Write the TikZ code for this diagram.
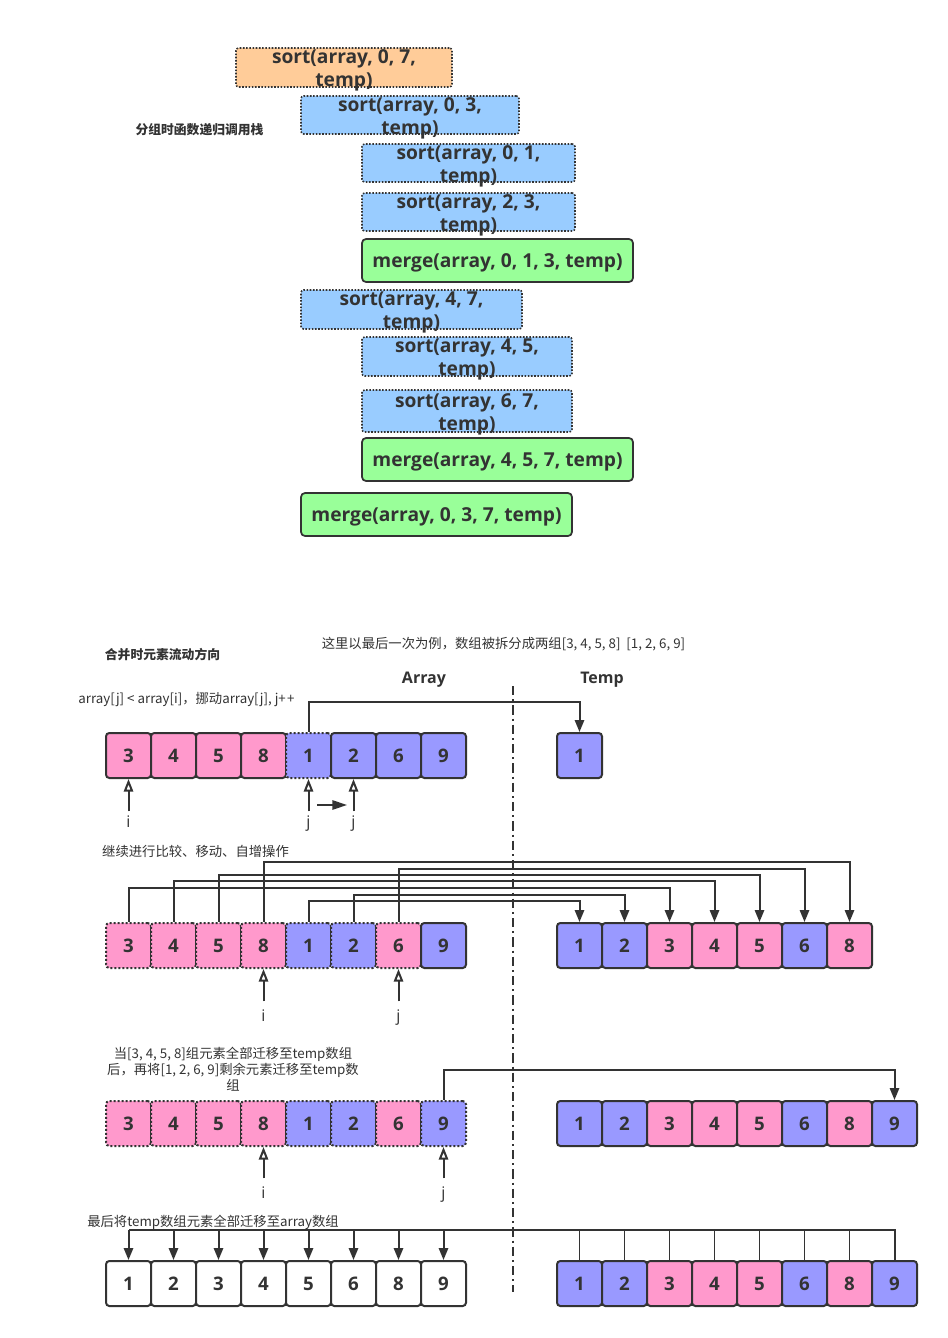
\documentclass[tikz,border=0pt]{standalone}
\usepackage{fontspec}
\setmainfont{Open Sans}
\newfontfamily\cjk{Noto Sans CJK SC}
\usetikzlibrary{arrows.meta,calc}
\definecolor{pinkc}{HTML}{FF99CC}
\definecolor{bluec}{HTML}{9999FF}
\definecolor{lbluec}{HTML}{99CCFF}
\definecolor{orangec}{HTML}{FFCC99}
\definecolor{greenc}{HTML}{99FF99}
\definecolor{ink}{HTML}{333333}
\tikzset{
 cellb/.style={draw=ink, line width=1.5pt, rounded corners=2.5pt, minimum width=33.75pt, minimum height=33.75pt, inner sep=0pt, text=ink, font=\bfseries\fontsize{14}{16}\selectfont},
 pc/.style={cellb, fill=pinkc},
 bc/.style={cellb, fill=bluec},
 wc/.style={cellb, fill=white},
 dotb/.style={dash pattern=on 1.5pt off 1.5pt},
 pcd/.style={pc, dotb},
 bcd/.style={bc, dotb},
 stackbox/.style={draw=ink, line width=1.2pt, dash pattern=on 1.2pt off 1.2pt, rounded corners=2pt, inner sep=0pt},
 sortb/.style={stackbox, fill=lbluec},
 mergeb/.style={draw=ink, line width=1.3pt, rounded corners=3pt, fill=greenc, inner sep=0pt, minimum width=203.25pt, minimum height=32.25pt},
 stktext/.style={align=center, text=ink, font=\bfseries\fontsize{14.4}{17.25}\selectfont, inner sep=0pt},
 note/.style={text=ink, font=\cjk\fontsize{10}{12}\selectfont, inner sep=0pt, align=center},
 notebold/.style={text=ink, font=\cjk\bfseries\fontsize{9.6}{12}\selectfont, inner sep=0pt},
 headt/.style={text=ink, font=\bfseries\fontsize{12}{14}\selectfont, inner sep=0pt},
 idx/.style={text=ink, font=\fontsize{12}{14}\selectfont, inner sep=0pt, text height=8.5pt, text depth=2.5pt},
 conn/.style={draw=ink, line width=1.5pt, -{Triangle[length=9pt,width=7pt]}},
 ptr/.style={draw=ink, line width=1.5pt, -{Triangle[length=9.5pt,width=7pt,fill=white]}},
 wire/.style={draw=ink, line width=1.5pt},
 thinwire/.style={draw=ink, line width=0.8pt},
 dashdot/.style={draw=ink, line width=1.3pt, dash pattern=on 7pt off 3pt on 1.5pt off 3pt},
}
\begin{document}
\begin{tikzpicture}[x=0.75pt,y=-0.75pt]
\useasboundingbox (0,0) rectangle (948,1338);

% ---------- call stack ----------
\node[sortb, fill=orangec, minimum width=162pt, minimum height=29.25pt] (c1) at (344,67.5) {};
\node[stktext] (c1t) at ([yshift=-2.5pt]c1.center) {sort(array, 0, 7,\\temp)};
\node[sortb, minimum width=163.5pt, minimum height=28.5pt] (c2) at (410,115) {};
\node[stktext] (c2t) at ([yshift=-2.5pt]c2.center) {sort(array, 0, 3,\\temp)};
\node[sortb, minimum width=159.75pt, minimum height=28.5pt] (c3) at (468.5,163) {};
\node[stktext] (c3t) at ([yshift=-2.5pt]c3.center) {sort(array, 0, 1,\\temp)};
\node[sortb, minimum width=159.75pt, minimum height=28.5pt] (c4) at (468.5,212) {};
\node[stktext] (c4t) at ([yshift=-2.5pt]c4.center) {sort(array, 2, 3,\\temp)};
\node[mergeb] (m1) at (497.5,260.5) {};
\node[stktext] (m1t) at ([yshift=-1.5pt]m1.center) {merge(array, 0, 1, 3, temp)};
\node[sortb, minimum width=165.75pt, minimum height=29.25pt] (c5) at (411.5,309.5) {};
\node[stktext] (c5t) at ([yshift=-2.5pt]c5.center) {sort(array, 4, 7,\\temp)};
\node[sortb, minimum width=157.5pt, minimum height=29.25pt] (c6) at (467,356.5) {};
\node[stktext] (c6t) at ([yshift=-2.5pt]c6.center) {sort(array, 4, 5,\\temp)};
\node[sortb, minimum width=157.5pt, minimum height=31.5pt] (c7) at (467,411) {};
\node[stktext] (c7t) at ([yshift=-2.5pt]c7.center) {sort(array, 6, 7,\\temp)};
\node[mergeb] (m2) at (497.5,459.5) {};
\node[stktext] (m2t) at ([yshift=-1.5pt]m2.center) {merge(array, 4, 5, 7, temp)};
\node[mergeb] (m3) at (436.5,514.5) {};
\node[stktext] (m3t) at ([yshift=-1.5pt]m3.center) {merge(array, 0, 3, 7, temp)};
\node[notebold] (lbl1) at (199.5,130) {分组时函数递归调用栈};

% ---------- headings ----------
\node[notebold] (lbl2) at (162.5,655) {合并时元素流动方向};
\node[note] (lbl3) at (503.5,644) {这里以最后一次为例，数组被拆分成两组[3, 4, 5, 8]~~[1, 2, 6, 9]};
\node[headt] (harr) at (424,680) {Array};
\node[headt] (htmp) at (602,680) {Temp};
\coordinate (dtop) at (513,686);
\coordinate (dbot) at (513,1292);
\draw[dashdot] (dtop) -- (dbot);

% ---------- row 1 ----------
\node[note] (n1) at (186.5,700) {array[j] < array[i]，挪动array[j], j+\kern1pt+};
\foreach \v/\s [count=\k] in {3/pc,4/pc,5/pc,8/pc,1/bcd,2/bc,6/bc,9/bc}
  \node[\s] (r1a\k) at ({128.5+45*(\k-1)},755.5) {\v};
\node[bc] (r1t1) at (579.5,755.5) {1};
\draw[conn] (r1a5.north) -- ++(0,-30) -| (r1t1.north);
\node[idx] (r1i) at (128.5,823) {i};
\node[idx] (r1j1) at (308.5,823) {j};
\node[idx] (r1j2) at (353.5,823) {j};
\draw[ptr] ([yshift=3pt]r1i.north) -- (r1a1.south);
\draw[ptr] ([yshift=3pt]r1j1.north) -- (r1a5.south);
\draw[ptr] ([yshift=3pt]r1j2.north) -- (r1a6.south);
\coordinate (mv1) at (317,805);
\coordinate (mv2) at (347,805);
\draw[draw=ink, line width=1.5pt, -{Triangle[length=11pt,width=7pt]}] (mv1) -- (mv2);

% ---------- row 2 ----------
\node[note] (n2) at (195.5,851) {继续进行比较、移动、自增操作};
\foreach \v/\s [count=\k] in {3/pcd,4/pcd,5/pcd,8/pcd,1/bcd,2/bcd,6/pcd,9/bc}
  \node[\s] (r2a\k) at ({128.5+45*(\k-1)},945.5) {\v};
\foreach \v/\s [count=\k] in {1/bc,2/bc,3/pc,4/pc,5/pc,6/bc,8/pc}
  \node[\s] (r2t\k) at ({579.5+45*(\k-1)},945.5) {\v};
\draw[conn] (r2a4.north) -- ++(0,-60) -| (r2t7.north);
\draw[conn] (r2a7.north) -- ++(0,-53) -| (r2t6.north);
\draw[conn] (r2a3.north) -- ++(0,-47) -| (r2t5.north);
\draw[conn] (r2a2.north) -- ++(0,-41) -| (r2t4.north);
\draw[conn] (r2a1.north) -- ++(0,-34) -| (r2t3.north);
\draw[conn] (r2a6.north) -- ++(0,-27) -| (r2t2.north);
\draw[conn] (r2a5.north) -- ++(0,-21) -| (r2t1.north);
\node[idx] (r2i) at (263.5,1017) {i};
\node[idx] (r2j) at (398.5,1017) {j};
\draw[ptr] ([yshift=6pt]r2i.north) -- (r2a4.south);
\draw[ptr] ([yshift=6pt]r2j.north) -- (r2a7.south);

% ---------- row 3 ----------
\node[note] (n3) at (233,1069) {当[3, 4, 5, 8]组元素全部迁移至temp数组\\后，再将[1, 2, 6, 9]剩余元素迁移至temp数\\组};
\foreach \v/\s [count=\k] in {3/pcd,4/pcd,5/pcd,8/pcd,1/bcd,2/bcd,6/pcd,9/bcd}
  \node[\s] (r3a\k) at ({128.5+45*(\k-1)},1123.5) {\v};
\foreach \v/\s [count=\k] in {1/bc,2/bc,3/pc,4/pc,5/pc,6/bc,8/pc,9/bc}
  \node[\s] (r3t\k) at ({579.5+45*(\k-1)},1123.5) {\v};
\draw[conn] (r3a8.north) -- ++(0,-30) -| (r3t8.north);
\node[idx] (r3i) at (263.5,1194) {i};
\node[idx] (r3j) at (443.5,1194) {j};
\draw[ptr] ([yshift=6pt]r3i.north) -- (r3a4.south);
\draw[ptr] ([yshift=6pt]r3j.north) -- (r3a8.south);

% ---------- row 4 ----------
\node[note] (n4) at (213,1222) {最后将temp数组元素全部迁移至array数组};
\foreach \v [count=\k] in {1,2,3,4,5,6,8,9}
  \node[wc] (r4a\k) at ({128.5+45*(\k-1)},1283.5) {\v};
\foreach \v/\s [count=\k] in {1/bc,2/bc,3/pc,4/pc,5/pc,6/bc,8/pc,9/bc}
  \node[\s] (r4t\k) at ({579.5+45*(\k-1)},1283.5) {\v};
\draw[wire] (r4t8.north) -- ++(0,-30) coordinate (top8) -- (top8 -| r4a1.north);
\foreach \k in {1,...,7}
  \draw[thinwire] (r4t\k.north) -- (r4t\k.north |- top8);
\foreach \k in {1,...,8}
  \draw[conn] (r4a\k.north |- top8) -- (r4a\k.north);
\end{tikzpicture}
\end{document}
